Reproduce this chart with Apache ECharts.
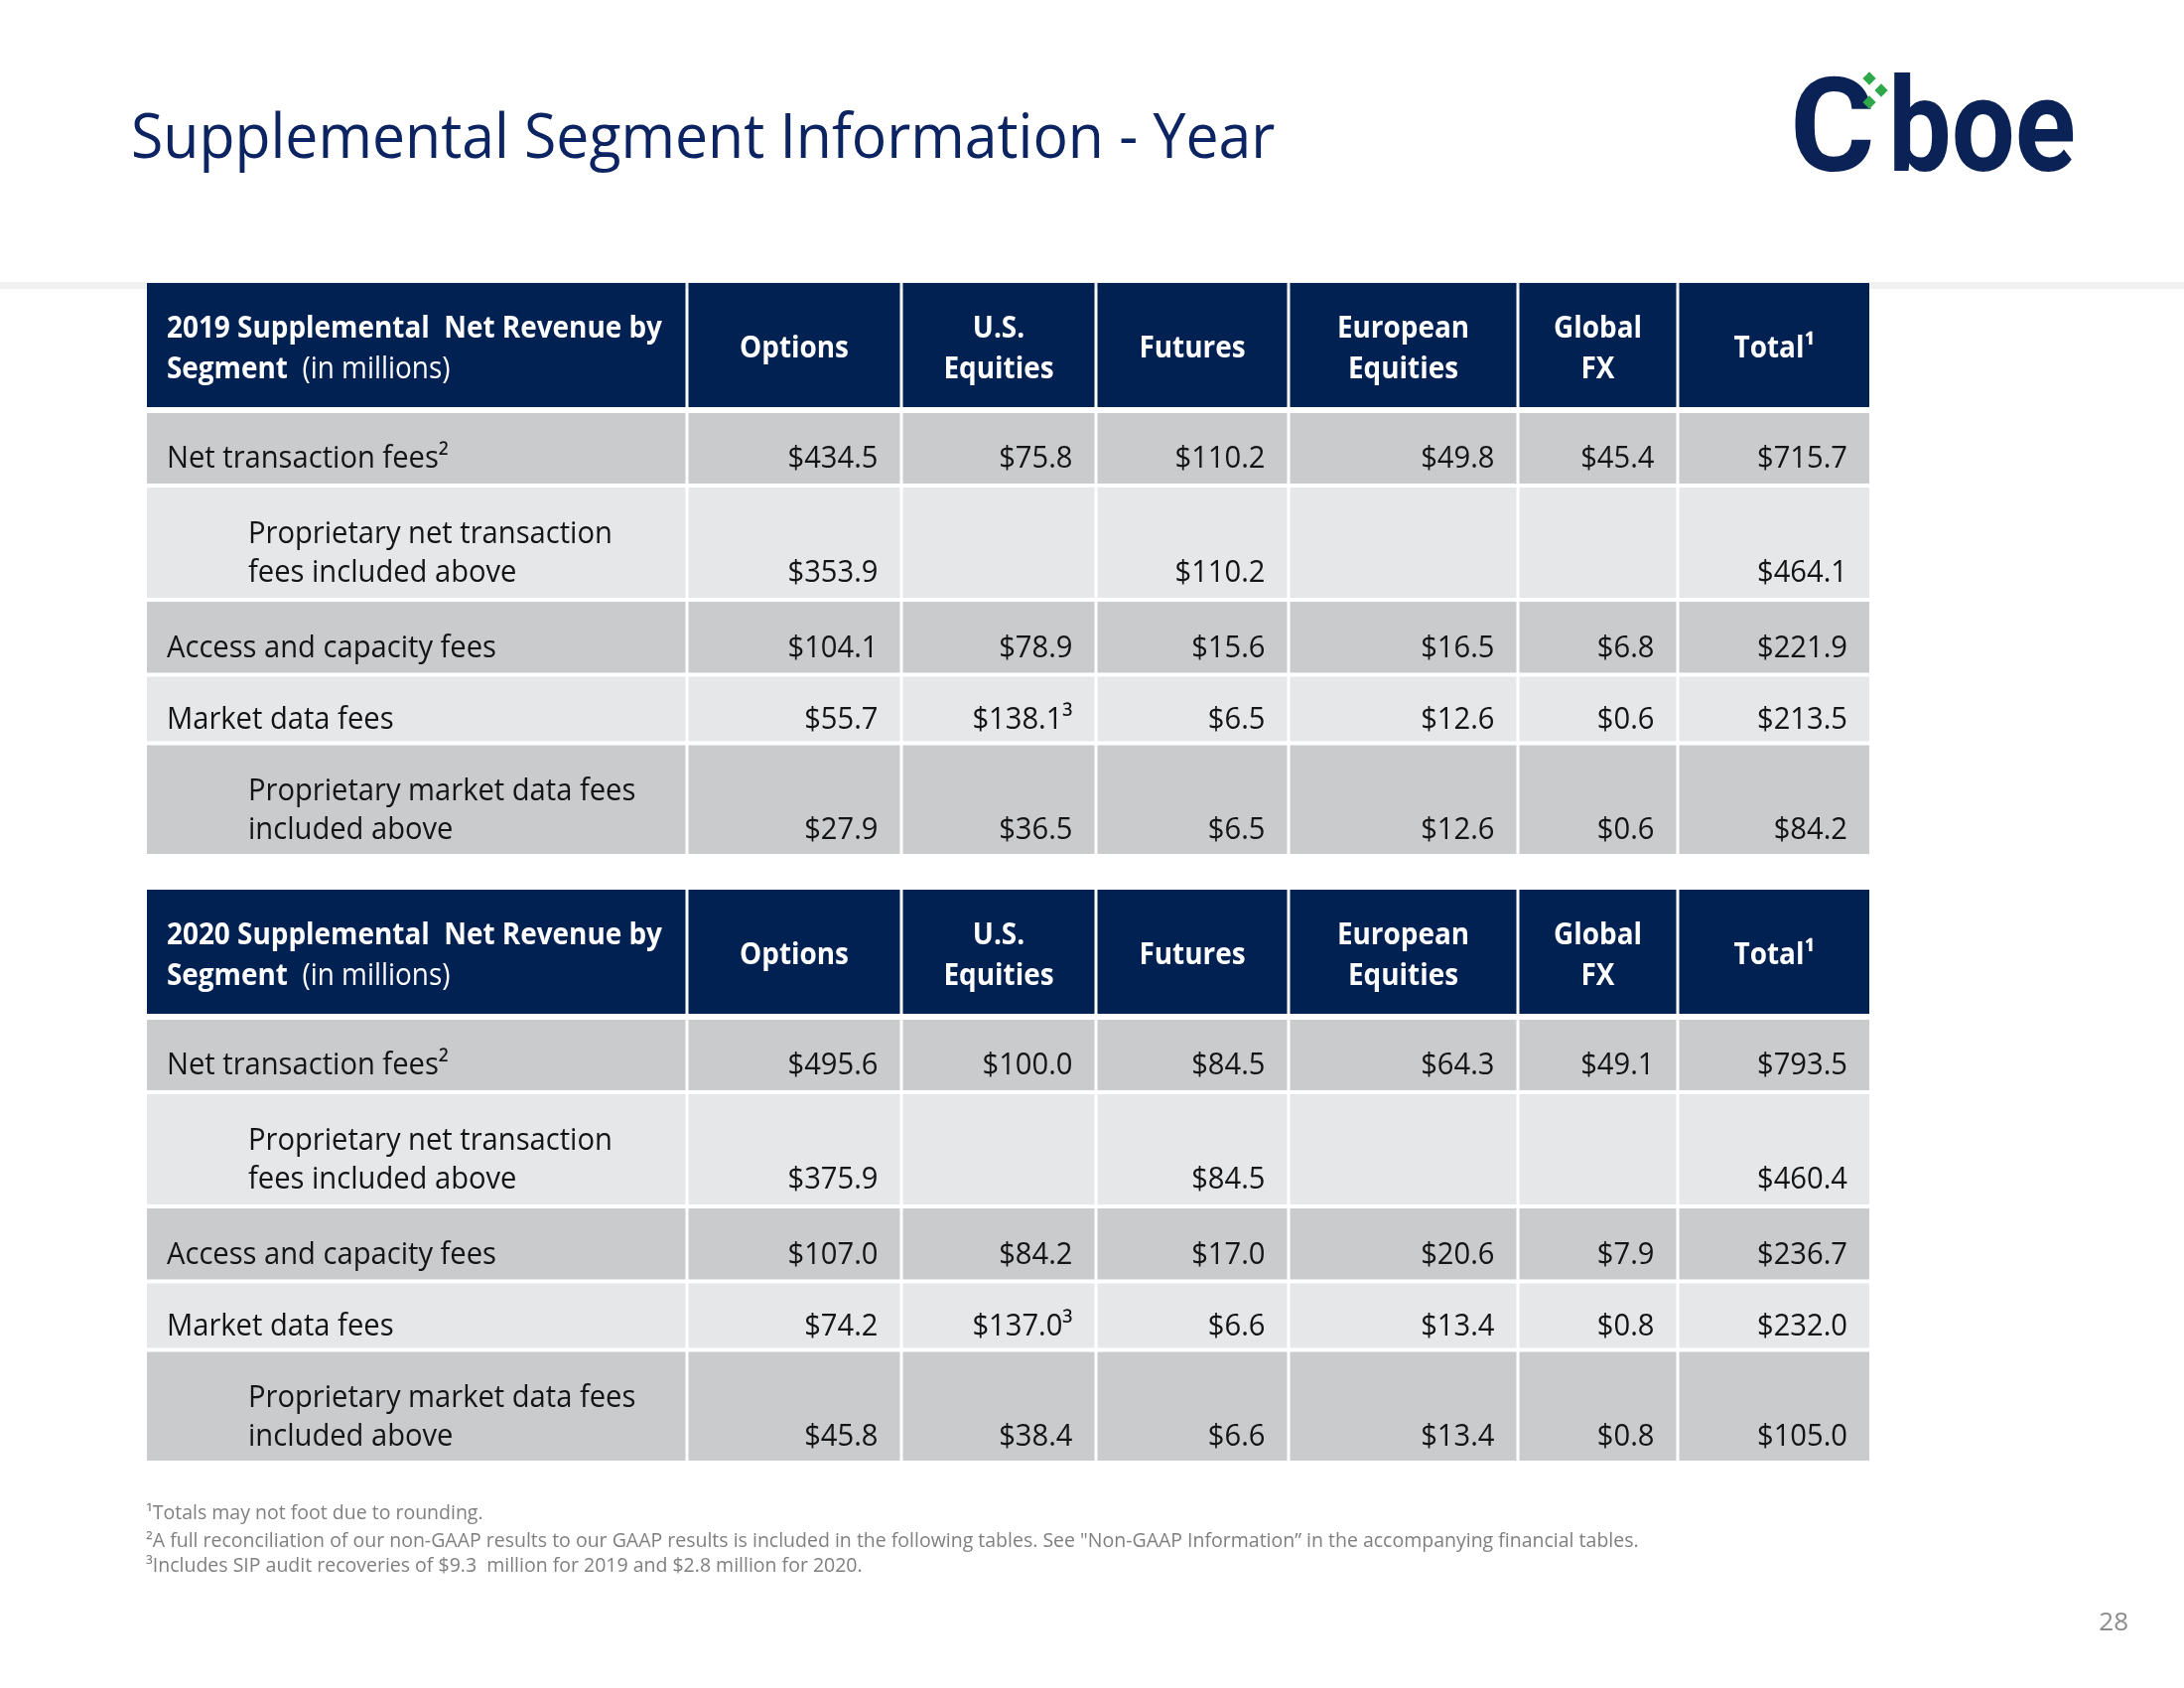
<!DOCTYPE html>
<html>
<head>
<meta charset="utf-8">
<script src="https://cdn.jsdelivr.net/npm/echarts@6/dist/echarts.min.js"></script>
<style>
  html, body { margin: 0; background: #fff; }
  #grafico { width: 2200px; height: 1700px; }
</style>
</head>
<body>
<div id="grafico"></div>
<script>
// 🔹 Datos (en millones de USD)
const segmentos = ["Options", "U.S.\nEquities", "Futures", "European\nEquities", "Global\nFX", "Total¹"];
const conceptos = [
  "Net transaction fees²",
  "Proprietary net transaction\nfees included above",
  "Access and capacity fees",
  "Market data fees",
  "Proprietary market data fees\nincluded above"
];
const anios = ["2019", "2020"];
const valores2019 = [
  [434.5, 75.8, 110.2, 49.8, 45.4, 715.7],
  [353.9, null, 110.2, null, null, 464.1],
  [104.1, 78.9, 15.6, 16.5, 6.8, 221.9],
  [55.7, 138.1, 6.5, 12.6, 0.6, 213.5],
  [27.9, 36.5, 6.5, 12.6, 0.6, 84.2]
];
const valores2020 = [
  [495.6, 100.0, 84.5, 64.3, 49.1, 793.5],
  [375.9, null, 84.5, null, null, 460.4],
  [107.0, 84.2, 17.0, 20.6, 7.9, 236.7],
  [74.2, 137.0, 6.6, 13.4, 0.8, 232.0],
  [45.8, 38.4, 6.6, 13.4, 0.8, 105.0]
];
// nota ³ en Market data fees / U.S. Equities
const notaCelda = { fila: 3, col: 1, marca: "³" };
const notasPie = [
  "¹Totals may not foot due to rounding.",
  "²A full reconciliation of our non-GAAP results to our GAAP results is included in the following tables. See \"Non-GAAP Information\u201d in the accompanying financial tables.",
  "³Includes SIP audit recoveries of $9.3  million for 2019 and $2.8 million for 2020."
];

// 🔹 Maquetación de la tabla (unidades = px del eje)
const anchosCol = [544, 216, 196, 194, 231, 161, 193];
const bordesFila = [0, 129, 204, 319, 394.5, 463.5, 577];
const conSangria = [false, true, false, false, true];
const bordesCol = anchosCol.reduce((acc, w) => { acc.push(acc[acc.length - 1] + w); return acc; }, [0]);
const anchoTabla = bordesCol[bordesCol.length - 1];
const altoTabla = bordesFila[bordesFila.length - 1];

const AZUL = "#012153";
const GRIS_OSCURO = "#cacbcd";
const GRIS_CLARO = "#e6e7e9";
const TEXTO = "#141414";
const FUENTE = "'Open Sans', sans-serif";
const ESCALA_CAB = 0.9;
const ESCALA = 0.94;

const fmt = v => v == null ? "" : `$${v.toFixed(1)}`;

// 🔹 Construir celdas de una tabla
const construirCeldas = (anio, valores) => {
  const celdas = [];
  celdas.push({ col: 0, fila: 0, tipo: "titulo", texto: `{b|${anio} Supplemental  Net Revenue by}\n{b|Segment}  {n|(in millions)}` });
  segmentos.forEach((s, i) => celdas.push({ col: i + 1, fila: 0, tipo: "cabecera", texto: s }));
  conceptos.forEach((c, f) => {
    celdas.push({ col: 0, fila: f + 1, tipo: "concepto", texto: c });
    valores[f].forEach((v, i) => {
      let t = fmt(v);
      if (f === notaCelda.fila && i === notaCelda.col) t += notaCelda.marca;
      celdas.push({ col: i + 1, fila: f + 1, tipo: "valor", texto: t });
    });
  });
  return celdas;
};

const tablas = [construirCeldas(anios[0], valores2019), construirCeldas(anios[1], valores2020)];

const dibujarCelda = celdas => (params, api) => {
  const c = celdas[params.dataIndex];
  const g = 1.5;
  const x0 = bordesCol[c.col] + (c.col > 0 ? g : 0);
  const x1 = bordesCol[c.col + 1] - (c.col < anchosCol.length - 1 ? g : 0);
  const y0 = c.fila === 0 ? 0 : bordesFila[c.fila] + 2;
  const y1 = c.fila === 0 ? 125 : bordesFila[c.fila + 1] - 2;
  const p0 = api.coord([x0, y0]);
  const p1 = api.coord([x1, y1]);
  const cy = (p0[1] + p1[1]) / 2;
  const dosLineas = c.fila > 0 && conceptos[c.fila - 1].includes("\n");

  let fondo = AZUL;
  if (c.fila > 0) fondo = c.fila % 2 === 1 ? GRIS_OSCURO : GRIS_CLARO;

  const base = { fontSize: 31, fontFamily: FUENTE, verticalAlign: "middle", x: 0, y: 0 };
  let texto;
  if (c.tipo === "titulo") {
    texto = {
      type: "text", x: p0[0] + 20, y: cy + 4, scaleX: ESCALA_CAB,
      style: Object.assign({}, base, {
        text: c.texto, align: "left", fill: "#fff", lineHeight: 41,
        rich: {
          b: { fontSize: 31, fontFamily: FUENTE, fontWeight: "bold", fill: "#fff", lineHeight: 41 },
          n: { fontSize: 31, fontFamily: FUENTE, fill: "#fff", lineHeight: 41 }
        }
      })
    };
  } else if (c.tipo === "cabecera") {
    texto = {
      type: "text", x: (p0[0] + p1[0]) / 2, y: cy + 4, scaleX: ESCALA_CAB,
      style: Object.assign({}, base, { text: c.texto, align: "center", fill: "#fff", fontWeight: "bold", lineHeight: 41 })
    };
  } else if (c.tipo === "concepto") {
    texto = {
      type: "text", x: p0[0] + (conSangria[c.fila - 1] ? 102 : 20), y: cy + 11, scaleX: ESCALA,
      style: Object.assign({}, base, { text: c.texto, align: "left", fill: TEXTO, lineHeight: 39 })
    };
  } else {
    texto = {
      type: "text", x: p1[0] - 22, y: cy + 11 + (dosLineas ? 19.5 : 0), scaleX: ESCALA,
      style: Object.assign({}, base, { text: c.texto, align: "right", fill: TEXTO })
    };
  }

  return {
    type: "group",
    children: [
      { type: "rect", shape: { x: p0[0], y: p0[1], width: p1[0] - p0[0], height: p1[1] - p0[1] }, style: { fill: fondo } },
      texto
    ]
  };
};

const chart = echarts.init(document.getElementById("grafico"));

const option = {
  backgroundColor: "#fff",
  animation: false,
  grid: [
    { left: 148, top: 285, width: anchoTabla, height: altoTabla },
    { left: 148, top: 896, width: anchoTabla, height: altoTabla }
  ],
  xAxis: [0, 1].map(i => ({ type: "value", gridIndex: i, min: 0, max: anchoTabla, show: false })),
  yAxis: [0, 1].map(i => ({ type: "value", gridIndex: i, min: 0, max: altoTabla, inverse: true, show: false })),
  series: tablas.map((celdas, i) => ({
    type: "custom",
    xAxisIndex: i,
    yAxisIndex: i,
    clip: false,
    data: celdas.map(c => [c.col, c.fila]),
    renderItem: dibujarCelda(celdas)
  })),
  graphic: [
    { type: "rect", z: 0, shape: { x: 0, y: 284, width: 2200, height: 7 }, style: { fill: "#f0f0f0" } },
    {
      type: "text", x: 132, y: 141, scaleX: 0.95,
      style: { text: "Supplemental Segment Information - Year", fontSize: 62, fontFamily: FUENTE, fill: "#0c2462", verticalAlign: "middle" }
    },
    // logo
    {
      type: "text", x: 1803, y: 139,
      style: { text: "C", fontSize: 131, fontFamily: "Roboto", fontWeight: "bold", fill: "#0b2256", verticalAlign: "middle" }
    },
    {
      type: "text", x: 1902, y: 139, scaleX: 0.865,
      style: { text: "boe", fontSize: 131, fontFamily: "Roboto", fontWeight: "bold", fill: "#0b2256", verticalAlign: "middle" }
    },
    ...[[1883, 79], [1895, 91], [1883, 103]].map(([x, y]) => ({
      type: "rect", x, y, rotation: Math.PI / 4,
      shape: { x: -4.7, y: -4.7, width: 9.4, height: 9.4 }, style: { fill: "#2ea84a" }
    })),
    ...notasPie.map((t, i) => ({
      type: "text", x: 147, y: [1524, 1552, 1577][i],
      style: { text: t, fontSize: 19.5, fontFamily: FUENTE, fill: "#7f7f7f", verticalAlign: "middle" }
    })),
    {
      type: "text", x: 2144, y: 1635,
      style: { text: "28", fontSize: 26, fontFamily: FUENTE, fill: "#8c8c8c", align: "right", verticalAlign: "middle" }
    }
  ]
};

chart.setOption(option);
</script>
</body>
</html>
